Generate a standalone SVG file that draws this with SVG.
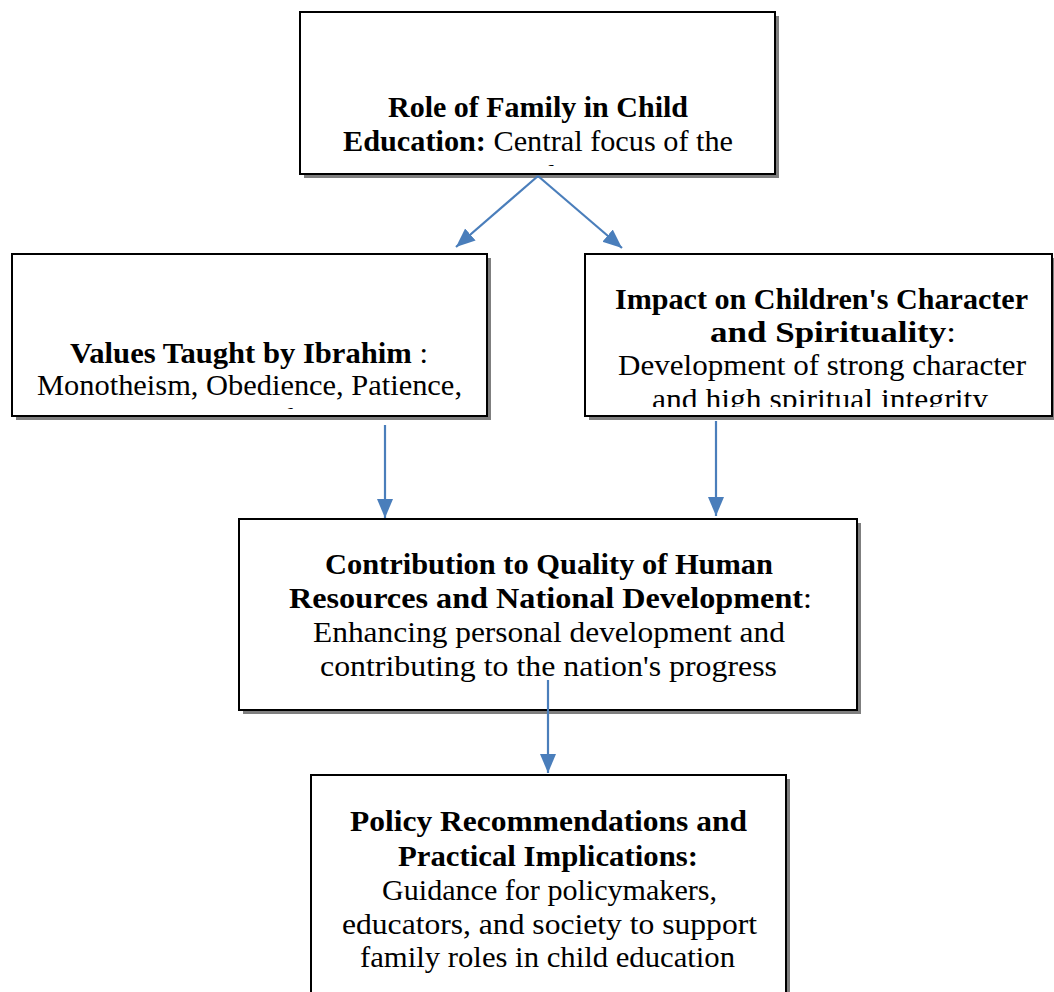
<svg xmlns="http://www.w3.org/2000/svg" width="1054" height="992" viewBox="0 0 1054 992">
  <style>
    .box { fill: #ffffff; stroke: #000000; stroke-width: 2; }
    .shadow { fill: #7f7f7f; }
    .t { font-family: "Liberation Serif", "DejaVu Serif", serif; font-size: 30px; fill: #000000; }
    .b { font-weight: bold; }
    .conn { stroke: #4A7EBB; stroke-width: 2.2; fill: none; marker-end: url(#arrow); }
  </style>
  <defs>
    <marker id="arrow" markerUnits="userSpaceOnUse" markerWidth="20" markerHeight="20" viewBox="0 0 20 20" refX="19" refY="10" orient="auto">
      <path d="M0,2 L19,10 L0,18 Z" fill="#4A7EBB"/>
    </marker>
    <clipPath id="clipTop"><rect x="302" y="14" width="471" height="152"/></clipPath>
    <clipPath id="clipLeft"><rect x="14" y="256" width="471" height="153"/></clipPath>
    <clipPath id="clipRight"><rect x="587" y="256" width="463" height="151"/></clipPath>
    <clipPath id="clipMid"><rect x="241" y="521" width="614" height="187"/></clipPath>
    <clipPath id="clipBottom"><rect x="313" y="777" width="471" height="215"/></clipPath>
  </defs>

  <!-- Role of the family -->
  <g id="node-role">
    <rect class="shadow" x="304" y="16" width="475" height="162"/>
    <rect class="box" x="300" y="12" width="475" height="162"/>
    <g clip-path="url(#clipTop)">
      <text class="t b" x="388" y="117" textLength="300" lengthAdjust="spacingAndGlyphs">Role of Family in Child</text>
      <text class="t" x="343" y="151" textLength="390" lengthAdjust="spacingAndGlyphs"><tspan class="b">Education:</tspan> Central focus of the</text>
      <text class="t" x="538" y="185" text-anchor="middle">study</text>
    </g>
  </g>

  <!-- Values taught -->
  <g id="node-values">
    <rect class="shadow" x="16" y="258" width="475" height="162"/>
    <rect class="box" x="12" y="254" width="475" height="162"/>
    <g clip-path="url(#clipLeft)">
      <text class="t" x="70" y="363" textLength="358" lengthAdjust="spacingAndGlyphs"><tspan class="b">Values Taught by Ibrahim</tspan> :</text>
      <text class="t" x="37" y="395" textLength="425" lengthAdjust="spacingAndGlyphs">Monotheism, Obedience, Patience,</text>
      <text class="t" x="249" y="429" text-anchor="middle">and Sacrifice</text>
    </g>
  </g>

  <!-- Impact on character -->
  <g id="node-impact">
    <rect class="shadow" x="589" y="258" width="467" height="162"/>
    <rect class="box" x="585" y="254" width="467" height="162"/>
    <g clip-path="url(#clipRight)">
      <text class="t b" x="615" y="309" textLength="413" lengthAdjust="spacingAndGlyphs">Impact on Children's Character</text>
      <text class="t" x="710" y="342" textLength="246" lengthAdjust="spacingAndGlyphs"><tspan class="b">and Spirituality</tspan>:</text>
      <text class="t" x="618" y="375" textLength="408" lengthAdjust="spacingAndGlyphs">Development of strong character</text>
      <text class="t" x="652" y="409" textLength="336" lengthAdjust="spacingAndGlyphs">and high spiritual integrity</text>
    </g>
  </g>

  <!-- Contribution to human resources -->
  <g id="node-contribution">
    <rect class="shadow" x="243" y="523" width="618" height="191"/>
    <rect class="box" x="239" y="519" width="618" height="191"/>
    <g clip-path="url(#clipMid)">
      <text class="t b" x="325" y="574" textLength="448" lengthAdjust="spacingAndGlyphs">Contribution to Quality of Human</text>
      <text class="t" x="289" y="608" textLength="523" lengthAdjust="spacingAndGlyphs"><tspan class="b">Resources and National Development</tspan>:</text>
      <text class="t" x="313" y="642" textLength="472" lengthAdjust="spacingAndGlyphs">Enhancing personal development and</text>
      <text class="t" x="320" y="676" textLength="457" lengthAdjust="spacingAndGlyphs">contributing to the nation's progress</text>
    </g>
  </g>

  <!-- Policy recommendations -->
  <g id="node-policy">
    <rect class="shadow" x="315" y="779" width="475" height="240"/>
    <rect class="box" x="311" y="775" width="475" height="240"/>
    <g clip-path="url(#clipBottom)">
      <text class="t b" x="350" y="831" textLength="397" lengthAdjust="spacingAndGlyphs">Policy Recommendations and</text>
      <text class="t b" x="398" y="866" textLength="300" lengthAdjust="spacingAndGlyphs">Practical Implications:</text>
      <text class="t" x="382" y="900" textLength="335" lengthAdjust="spacingAndGlyphs">Guidance for policymakers,</text>
      <text class="t" x="342" y="934" textLength="415" lengthAdjust="spacingAndGlyphs">educators, and society to support</text>
      <text class="t" x="360" y="967" textLength="375" lengthAdjust="spacingAndGlyphs">family roles in child education</text>
    </g>
  </g>

  <!-- Connectors -->
  <g id="connectors">
    <line class="conn" x1="538" y1="176" x2="456" y2="247"/>
    <line class="conn" x1="538" y1="176" x2="622" y2="248"/>
    <line class="conn" x1="385" y1="425" x2="385" y2="518"/>
    <line class="conn" x1="716" y1="421" x2="716" y2="516"/>
    <line class="conn" x1="548" y1="680" x2="548" y2="773"/>
  </g>
</svg>
